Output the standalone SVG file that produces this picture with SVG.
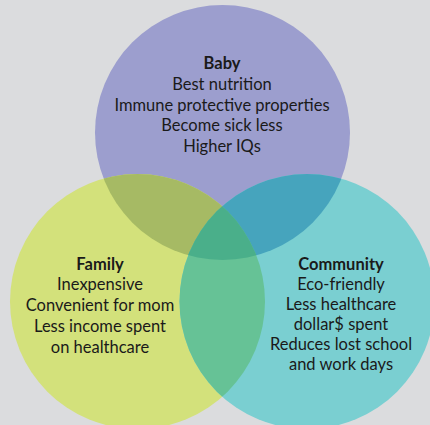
<svg xmlns="http://www.w3.org/2000/svg" width="430" height="425" viewBox="0 0 430 425">
  <style>
    text { font-family: Lato, "Liberation Sans", sans-serif; font-size: 16.5px; fill: #1a1a1a; text-anchor: middle; }
    .title { font-weight: bold; }
  </style>
  <defs>
    <clipPath id="clipBaby"><circle cx="222.5" cy="132.5" r="127.5"/></clipPath>
    <clipPath id="clipFamily"><circle cx="137.5" cy="301.5" r="127.5"/></clipPath>
    <clipPath id="clipCommunity"><circle cx="307" cy="301.5" r="127.5"/></clipPath>
  </defs>
  <rect x="0" y="0" width="430" height="425" fill="#dbdcde"/>
  <g id="baby">
    <circle cx="222.5" cy="132.5" r="127.5" fill="#9c9ece"/>
    <text class="title" x="222" y="69">Baby</text>
    <text x="222" y="90">Best nutrition</text>
    <text x="222" y="110.5">Immune protective properties</text>
    <text x="222" y="131">Become sick less</text>
    <text x="222" y="152">Higher IQs</text>
  </g>
  <g id="family">
    <circle cx="137.5" cy="301.5" r="127.5" fill="#d3e17b"/>
    <text class="title" x="100" y="269.5">Family</text>
    <text x="100" y="290">Inexpensive</text>
    <text x="100" y="310.7">Convenient for mom</text>
    <text x="100" y="331.5">Less income spent</text>
    <text x="100" y="352.5">on healthcare</text>
  </g>
  <g id="community">
    <circle cx="307" cy="301.5" r="127.5" fill="#7acfd1"/>
    <text class="title" x="341" y="269.5">Community</text>
    <text x="341" y="290">Eco-friendly</text>
    <text x="341" y="309.5">Less healthcare</text>
    <text x="341" y="329.5">dollar$ spent</text>
    <text x="341" y="349.5">Reduces lost school</text>
    <text x="341" y="369.5">and work days</text>
  </g>
  <g id="overlaps">
    <circle cx="137.5" cy="301.5" r="127.5" fill="#a6ba64" clip-path="url(#clipBaby)"/>
    <circle cx="307" cy="301.5" r="127.5" fill="#46a4bd" clip-path="url(#clipBaby)"/>
    <circle cx="307" cy="301.5" r="127.5" fill="#66c296" clip-path="url(#clipFamily)"/>
    <g clip-path="url(#clipBaby)">
      <circle cx="307" cy="301.5" r="127.5" fill="#4aaf8a" clip-path="url(#clipFamily)"/>
    </g>
  </g>
</svg>
